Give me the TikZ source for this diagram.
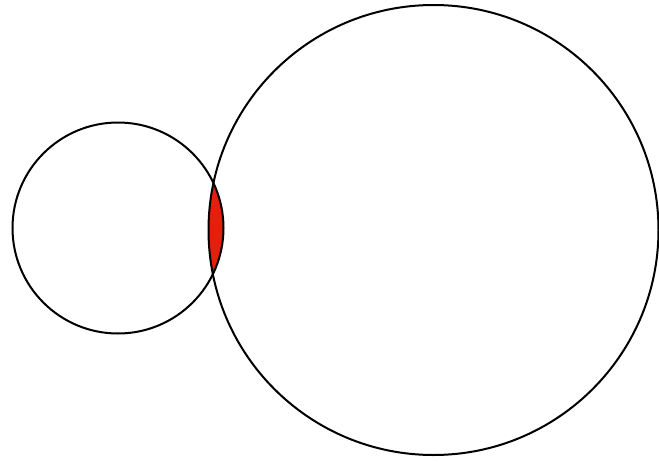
\documentclass[tikz,border=0pt]{standalone}
\definecolor{lensred}{RGB}{228,32,12}
\tikzset{circline/.style={draw=black,line width=2pt}}
\begin{document}
\begin{tikzpicture}[x=1pt,y=-1pt]
\useasboundingbox (0,0) rectangle (659,461);
\coordinate (cs) at (118,228);
\coordinate (cb) at (433.5,230);
\begin{scope}
  \clip (cb) circle [radius=225];
  \fill[lensred] (cs) circle [radius=105.5];
\end{scope}
\draw[circline] (cs) circle [radius=105.5];
\draw[circline] (cb) circle [radius=225];
\end{tikzpicture}
\end{document}
